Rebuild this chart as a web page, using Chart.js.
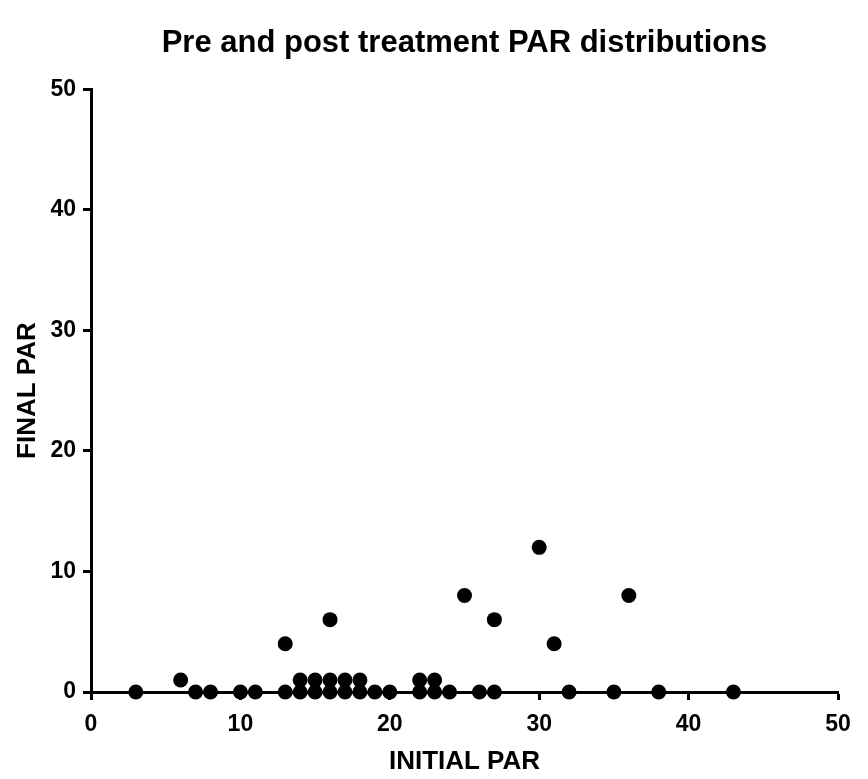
<!DOCTYPE html>
<html>
<head>
<meta charset="utf-8">
<script src="https://cdn.jsdelivr.net/npm/chart.js@4.4.0/dist/chart.umd.min.js"></script>
<style>
html,body{margin:0;padding:0;background:#fff;}
#wrap{width:868px;height:779px;}
</style>
</head>
<body>
<div id="wrap"><canvas id="c"></canvas></div>
<script>
const initialPar = [3,6,7,8,10,11,13,13,14,14,15,15,16,16,16,17,17,18,18,19,20,22,22,23,23,24,25,26,27,27,30,31,32,35,36,38,43];
const finalPar   = [0,1,0,0,0, 0, 0, 4, 0, 1, 0, 1, 0, 1, 6, 0, 1, 0, 1, 0, 0, 0, 1, 0, 1, 0, 8, 0, 0, 6,12, 4, 0, 0, 8, 0, 0];
const xTicks = [0,10,20,30,40,50];
const yTicks = [0,10,20,30,40,50];
const titleText = 'Pre and post treatment PAR distributions';
const xTitle = 'INITIAL PAR';
const yTitle = 'FINAL PAR';

const points = initialPar.map((x,i)=>({x:x,y:finalPar[i]}));
const FONT = 'Liberation Sans, Arial, sans-serif';

new Chart(document.getElementById('c'), {
  type: 'scatter',
  data: { datasets: [{ data: points, backgroundColor:'#000', borderColor:'#000', pointRadius:7.5, pointHoverRadius:7.5, borderWidth:0, clip:false }] },
  options: {
    responsive: true,
    maintainAspectRatio: false,
    animation: false,
    events: [],
    layout: { padding: { left: 12, right: 30, top: 0, bottom: 0 } },
    plugins: {
      legend: { display: false },
      tooltip: { enabled: false },
      title: { display: true, fullSize:false, text: titleText, color:'#000', font: { family: FONT, size: 31, weight: 'bold' }, padding: { top: 25, bottom: 27 } }
    },
    scales: {
      x: {
        type: 'linear', min: 0, max: 50,
        afterBuildTicks: s => { s.ticks = xTicks.map(v=>({value:v})); },
        ticks: { color:'#000', font:{ family: FONT, size: 23, weight:'bold' }, padding: 11 },
        grid: { drawOnChartArea:false, drawTicks:true, tickLength:8, tickWidth:3, tickColor:'#000' },
        border: { display:true, color:'#000', width:3 },
        title: { display:true, text:xTitle, color:'#000', font:{ family: FONT, size: 26, weight:'bold' }, padding:{top:4,bottom:2} },
        afterFit: s => { s.height = 779 - 692; }
      },
      y: {
        type: 'linear', min: 0, max: 50,
        afterBuildTicks: s => { s.ticks = yTicks.map(v=>({value:v})); },
        ticks: { color:'#000', font:{ family: FONT, size: 23, weight:'bold' }, padding: 7 },
        grid: { drawOnChartArea:false, drawTicks:true, tickLength:8, tickWidth:3, tickColor:'#000' },
        border: { display:true, color:'#000', width:3 },
        title: { display:true, text:yTitle, color:'#000', font:{ family: FONT, size: 26, weight:'bold' }, padding:{top:0,bottom:4} },
        afterFit: s => { s.width = 91 - 12; }
      }
    }
  }
});
</script>
</body>
</html>
